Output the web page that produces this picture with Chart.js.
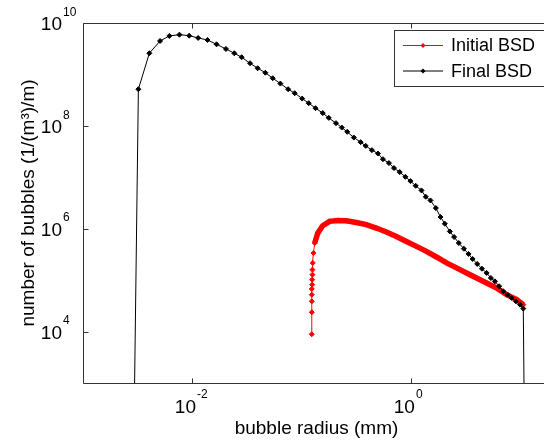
<!DOCTYPE html>
<html><head><meta charset="utf-8">
<script src="https://cdn.jsdelivr.net/npm/chart.js@4/dist/chart.umd.min.js"></script>
<style>html,body{margin:0;padding:0;overflow:hidden;background:#fff}#wrap{width:560px;height:442px}</style>
</head><body><div id="wrap"><canvas id="c" width="560" height="442"></canvas></div>
<script>
// ---- data (radius in mm, number density in 1/(m^3)/m) ----
const finalRadius = [2.54e-3, 3.206e-3, 4.036e-3, 5.058e-3, 6.152e-3, 7.603e-3, 9.333e-3, 1.127e-2, 1.371e-2, 1.660e-2, 2.023e-2,
  2.410e-2, 2.812e-2, 3.357e-2, 3.936e-2, 4.634e-2, 5.408e-2, 6.353e-2, 7.482e-2, 8.590e-2, 0.1005,
  0.1153, 0.1330, 0.1549, 0.1758, 0.2046, 0.2312, 0.2594, 0.2979, 0.3436, 0.3819,
  0.4355, 0.4943, 0.5495, 0.6237, 0.6934, 0.7816, 0.8810, 0.9795, 1.094, 1.236,
  1.352, 1.493, 1.671, 1.845, 2.018, 2.244, 2.455, 2.710, 3.013, 3.327,
  3.622, 3.990, 4.406, 4.864, 5.321, 5.794, 6.339, 6.902, 7.568, 8.241,
  9.016, 9.817, 10.52, 11.45];
const finalCount = [1e-8, 5.16e8, 2.58e9, 4.47e9, 5.60e9, 5.93e9, 5.66e9, 5.12e9, 4.68e9, 3.85e9, 3.13e9,
  2.58e9, 2.16e9, 1.65e9, 1.32e9, 1.08e9, 8.43e8, 6.64e8, 5.16e8, 4.32e8, 3.39e8,
  2.76e8, 2.21e8, 1.77e8, 1.43e8, 1.13e8, 9.27e7, 7.64e7, 5.93e7, 4.82e7, 4.09e7,
  3.37e7, 2.90e7, 2.25e7, 1.89e7, 1.51e7, 1.26e7, 1.02e7, 8.43e6, 6.84e6, 5.55e6,
  4.18e6, 3.55e6, 2.52e6, 1.69e6, 1.25e6, 8.87e5, 6.90e5, 5.27e5, 4.09e5, 3.23e5,
  2.58e5, 2.07e5, 1.67e5, 1.38e5, 1.10e5, 9.48e4, 7.59e4, 6.07e4, 5.22e4, 4.51e4,
  3.87e4, 3.34e4, 2.80e4, 1e-4];
const initialRadius = [0.1230, 0.1230, 0.1230, 0.1230, 0.1230, 0.1239, 0.1239, 0.1247, 0.1247, 0.1256,
  0.1274, 0.1309, 0.1396, 0.1549, 0.1786, 0.2128, 0.2541, 0.3133, 0.3873, 0.4775,
  0.5902, 0.7295, 0.8995, 1.112, 1.371, 1.694, 2.094, 2.582, 3.192, 3.936,
  4.864, 5.998, 7.413, 9.162, 10.52];
const initialCount = [8.87e3, 2.37e4, 3.87e4, 5.22e4, 6.75e4, 8.18e4, 1.02e5, 1.28e5, 1.60e5, 2.16e5,
  3.37e5, 5.27e5, 8.26e5, 1.14e6, 1.39e6, 1.45e6, 1.43e6, 1.32e6, 1.20e6, 1.03e6,
  8.63e5, 7.08e5, 5.66e5, 4.53e5, 3.62e5, 2.82e5, 2.16e5, 1.73e5, 1.38e5, 1.10e5,
  8.83e4, 7.06e4, 5.22e4, 4.18e4, 3.34e4];
const seriesNames = ['Initial BSD', 'Final BSD'];
const xTickValues = [0.01, 1];
const xTickExponents = ['-2', '0'];
const yTickValues = [1e4, 1e6, 1e8, 1e10];
const yTickExponents = ['4', '6', '8', '10'];
const tickBase = '10';
const xTitle = 'bubble radius (mm)';
const yTitle = 'number of bubbles (1/(m\u00B3)/m)';

const FONT = '"Liberation Sans", Arial, Helvetica, sans-serif';
const AXIS = '#333';
const BASE_PX = 19, EXP_PX = 12;

function toXY(xs, ys) { return xs.map((v, i) => ({x: v, y: ys[i]})); }

const framePlugin = {
  id: 'frame',
  afterDraw(chart) {
    const {ctx, chartArea: a, scales: {x, y}} = chart;
    ctx.save();
    ctx.strokeStyle = AXIS; ctx.lineWidth = 1;
    const ln = (x1, y1, x2, y2) => { ctx.beginPath(); ctx.moveTo(x1, y1); ctx.lineTo(x2, y2); ctx.stroke(); };
    const L = Math.round(a.left) + 0.5, R = Math.round(a.right) + 0.5, T = Math.round(a.top) + 0.5, B = Math.round(a.bottom) + 0.5;
    ln(L, T, R, T); ln(L, B, R, B); ln(L, T, L, B); ln(R, T, R, B);
    xTickValues.forEach(v => { const p = Math.round(x.getPixelForValue(v)) + 0.5; ln(p, B, p, B - 5); ln(p, T, p, T + 5); });
    yTickValues.forEach(v => { const p = Math.round(y.getPixelForValue(v)) + 0.5; ln(L, p, L + 5, p); ln(R, p, R - 5, p); });

    // tick labels: base "10" with raised exponent
    ctx.fillStyle = '#000';
    ctx.textBaseline = 'alphabetic';
    const cap = BASE_PX * 0.716;
    yTickValues.forEach((v, i) => {
      const p = y.getPixelForValue(v);
      const base = p + cap / 2 + 0.5;
      ctx.font = BASE_PX + 'px ' + FONT; ctx.textAlign = 'right';
      ctx.fillText(tickBase, a.left - 21, base);
      ctx.font = EXP_PX + 'px ' + FONT; ctx.textAlign = 'left';
      ctx.fillText(yTickExponents[i], a.left - 20, base - cap - 1);
    });
    xTickValues.forEach((v, i) => {
      const p = x.getPixelForValue(v);
      const base = a.bottom + 30;
      ctx.font = BASE_PX + 'px ' + FONT; ctx.textAlign = 'right';
      ctx.fillText(tickBase, p + 3.5, base);
      ctx.font = EXP_PX + 'px ' + FONT; ctx.textAlign = 'left';
      ctx.fillText(xTickExponents[i], p + 4.5, base - cap - 1);
    });

    // legend box
    const bx = 394.5, by = 30.5, bw = 160, bh = 56;
    ctx.fillStyle = '#fff'; ctx.fillRect(bx, by, bw, bh);
    ctx.strokeStyle = AXIS; ctx.strokeRect(bx, by, bw, bh);
    const ds = chart.data.datasets;
    const rows = [45.5, 71];
    ds.forEach((d, i) => {
      const yy = rows[i];
      ctx.strokeStyle = d.borderColor; ctx.lineWidth = 1;
      ln(403, yy, 443, yy);
      ctx.fillStyle = d.pointBackgroundColor;
      ctx.beginPath(); ctx.moveTo(423, yy - 2.5); ctx.lineTo(425.5, yy); ctx.lineTo(423, yy + 2.5); ctx.lineTo(420.5, yy); ctx.closePath(); ctx.fill();
      ctx.fillStyle = '#000'; ctx.font = '18px ' + FONT; ctx.textBaseline = 'middle'; ctx.textAlign = 'left';
      ctx.fillText(d.label, 451, yy + 1);
    });
    ctx.restore();
  }
};

new Chart(document.getElementById('c'), {
  type: 'line',
  data: {
    datasets: [
      {
        label: seriesNames[0],
        data: toXY(initialRadius, initialCount),
        borderColor: '#ff0000', pointBackgroundColor: '#ff0000', pointBorderColor: '#ff0000',
        borderWidth: 1, pointStyle: 'rectRot', pointRadius: 2.5, pointBorderWidth: 1,
        segment: { borderWidth: c => (c.p0DataIndex >= 11 ? 5.5 : 1) },
        tension: 0, order: 2
      },
      {
        label: seriesNames[1],
        data: toXY(finalRadius, finalCount),
        borderColor: '#000000', pointBackgroundColor: '#000000', pointBorderColor: '#000000',
        borderWidth: 1, pointStyle: 'rectRot', pointRadius: 2.5, pointBorderWidth: 1,
        tension: 0, order: 1
      }
    ]
  },
  options: {
    responsive: false, animation: false, devicePixelRatio: 1,
    layout: { padding: { left: 0, top: 23, right: 10, bottom: 0 } },
    plugins: { legend: { display: false }, tooltip: { enabled: false } },
    scales: {
      x: {
        type: 'logarithmic', min: 1e-3, max: 18.45,
        grid: { display: false, drawTicks: false }, border: { display: false },
        afterBuildTicks: s => { s.ticks = xTickValues.map(v => ({value: v})); },
        afterFit: s => { s.height = 59; },
        ticks: { display: false },
        title: { display: true, text: xTitle, color: '#000', font: { family: FONT, size: 19 }, padding: { top: 0, bottom: 2 } }
      },
      y: {
        type: 'logarithmic', min: 1e3, max: 1e10,
        grid: { display: false, drawTicks: false }, border: { display: false },
        afterBuildTicks: s => { s.ticks = yTickValues.map(v => ({value: v})); },
        afterFit: s => { s.width = 83; },
        ticks: { display: false },
        title: { display: true, text: yTitle, color: '#000', font: { family: FONT, size: 19 }, padding: { top: 17, bottom: 0 } }
      }
    }
  },
  plugins: [framePlugin]
});
</script></body></html>
